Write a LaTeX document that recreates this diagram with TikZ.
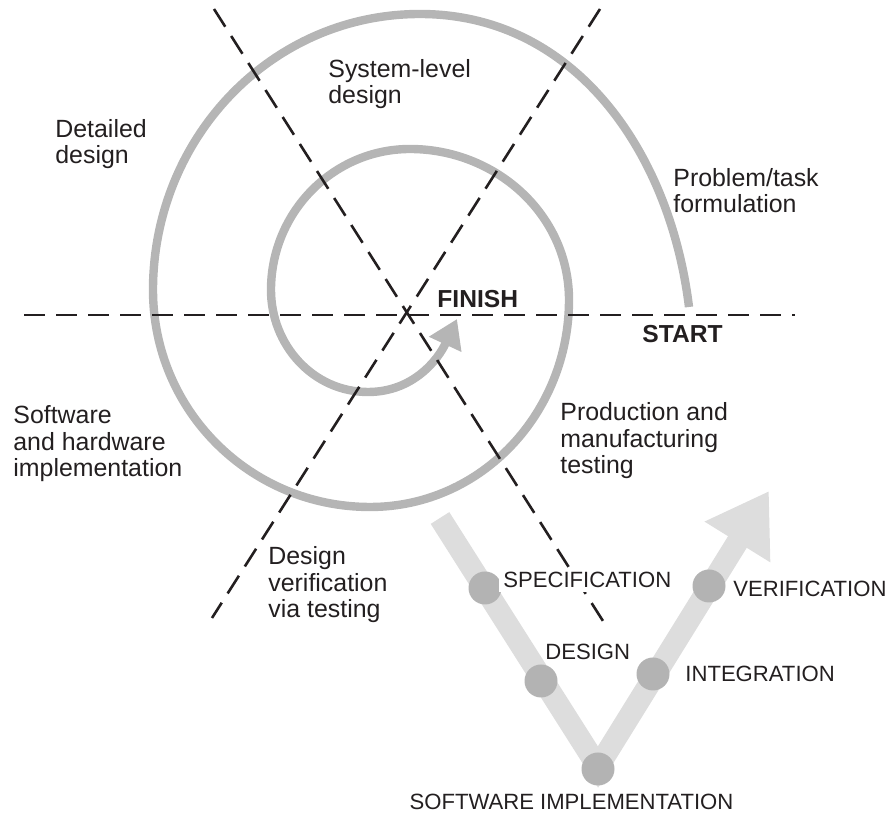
\documentclass[tikz,border=0pt]{standalone}
\usepackage{fontspec}
\setmainfont{Liberation Sans}
\usetikzlibrary{arrows.meta}
\definecolor{spiralgray}{HTML}{B5B5B5}
\definecolor{vgray}{HTML}{DDDDDD}
\definecolor{dotgray}{HTML}{B3B3B3}
\definecolor{ink}{HTML}{231F20}
\tikzset{every node/.style={align=left, inner sep=0pt, text=ink, font=\fontsize{12.45}{13.4}\selectfont},
    axis/.style={ink, line width=1.3pt, dash pattern=on 10.5pt off 5.5pt},
    spiralpath/.style={spiralgray, line width=4.2pt, -{Triangle[length=14pt,width=17pt]}},
    vpath/.style={vgray, line width=11pt, -{Triangle[length=30pt,width=36.5pt]}},
    stage/.style={circle, fill=dotgray, minimum size=16.5pt},
    caps/.style={font=\fontsize{11.05}{13}\selectfont},
    heavy/.style={font=\bfseries\fontsize{12.3}{13.4}\selectfont}}

\begin{document}
\begin{tikzpicture}[x=0.5pt, y=0.5pt]
            \useasboundingbox (0,0) rectangle (891,814);

            \coordinate (s0) at (689,507);
            \coordinate (s1) at (420,800);
            \coordinate (s2) at (153,524);
            \coordinate (s3) at (370,307);
            \coordinate (s4) at (569,514);
            \coordinate (s5) at (410,665);
            \coordinate (s6) at (271,524);
            \coordinate (s7) at (368,422);
            \coordinate (s8) at (457,495);
            \draw [spiralpath] (s0) to[out=97,in=0] (s1) to[out=180,in=90] (s2)
                to[out=270,in=180] (s3) to[out=0,in=270] (s4) to[out=90,in=0] (s5)
                to[out=180,in=90] (s6) to[out=270,in=180] (s7) to[out=0,in=245] (s8);

            \coordinate (h1) at (24,499);
            \coordinate (h2) at (795,499);
            \coordinate (a1) at (214,805);
            \coordinate (a2) at (603,193);
            \coordinate (b1) at (600,805);
            \coordinate (b2) at (212,196);
            \draw [axis] (h1) -- (h2);
            \draw [axis] (a1) -- (a2);
            \draw [axis] (b1) -- (b2);

            \coordinate (vtop) at (440,296);
            \coordinate (vbot) at (598,47);
            \coordinate (vtip) at (769,323);
            \draw [vpath] (vtop) -- (vbot) -- (vtip);

            \node [stage] (spec) at (485,226) {};
            \node [stage] (des) at (541,133) {};
            \node [stage] (impl) at (598,45) {};
            \node [stage] (integ) at (653,140) {};
            \node [stage] (verif) at (709,228) {};

            \node [anchor=base west] (syslev) at (328,710) {System-level\\design};
            \node [anchor=base west] (detail) at (55,650) {Detailed\\design};
            \node [anchor=base west] (problem) at (673,601) {Problem/task\\formulation};
            \node [heavy, anchor=base west] (finish) at (437,506) {FINISH};
            \node [heavy, anchor=base west] (start) at (642,471) {START};
            \node [anchor=base west] (swhw) at (13,337) {Software\\and hardware\\implementation};
            \node [anchor=base west] (desver) at (268,196) {Design\\verification\\via testing};
            \node [anchor=base west] (prod) at (560,340) {Production and\\manufacturing\\testing};

            \node [caps, fill=white, inner sep=2pt, anchor=base west] (speclab) at (499,226) {SPECIFICATION};
            \node [caps, anchor=base west] (deslab) at (545,154) {DESIGN};
            \node [caps, anchor=base west] (veriflab) at (733,217) {VERIFICATION};
            \node [caps, anchor=base west] (integlab) at (685,132) {INTEGRATION};
            \node [caps, anchor=base] (impllab) at (571.5,4) {SOFTWARE IMPLEMENTATION};
        \end{tikzpicture}
\end{document}
